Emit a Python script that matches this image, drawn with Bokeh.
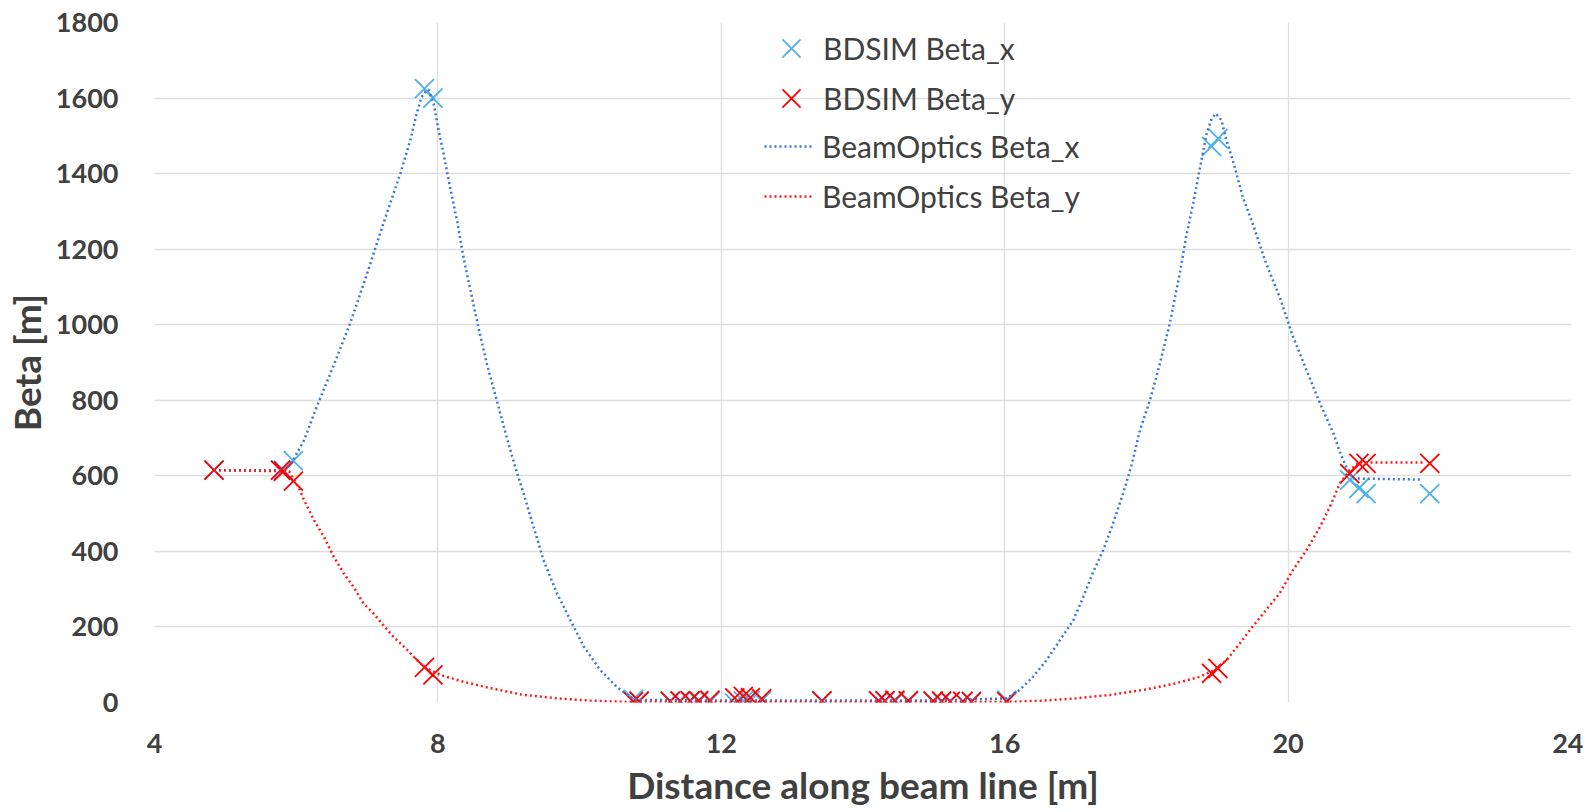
from bokeh.plotting import figure
from bokeh.models import Legend, LegendItem, FixedTicker, Range1d
from bokeh.embed import file_html
from bokeh.resources import INLINE

# BDSIM sampling points (shared s positions)
bdsim_s = [4.84, 5.78, 5.82, 5.96, 7.81, 7.93, 10.76, 10.84, 11.28, 11.42, 11.56, 11.68, 11.84,
           12.19, 12.31, 12.41, 12.57, 13.42, 14.22, 14.31, 14.45, 14.64, 14.99, 15.11,
           15.23, 15.41, 15.53, 16.03, 18.92, 19.01, 20.87, 21.00, 21.10, 22.00]
bdsim_beta_x = [615, 615, 615, 640, 1625, 1600, 8, 5, 4, 3, 3, 2, 2,
                -2, 4, 5, 5, 5, 5, 4, 3, 3, 3, 2,
                3, 3, 3, 6, 1472, 1493, 589, 567, 553, 553]
bdsim_beta_y = [615, 615, 612, 586, 93, 73, 2, 3, 3, 4, 5, 5, 6,
                12, 16, 13, 10, 4, 4, 5, 6, 5, 4, 4,
                3, 3, 2, 2, 77, 90, 606, 633, 633, 633]

# BeamOptics curves
bo_x_s = [4.84, 5.85, 5.97, 6.11, 6.29, 6.53, 6.76, 7.00, 7.23, 7.47, 7.61, 7.70, 7.77, 7.84,
          7.87, 7.94, 8.01, 8.08, 8.17, 8.27, 8.36, 8.46, 8.57, 8.69, 8.83, 8.97, 9.09,
          9.21, 9.35, 9.49, 9.68, 9.87, 10.06, 10.29, 10.52, 10.71, 10.81, 12.0, 13.5,
          15.0, 16.03, 16.21, 16.40, 16.59, 16.78, 16.97, 17.11, 17.25, 17.39, 17.53,
          17.67, 17.79, 17.91, 18.05, 18.19, 18.33, 18.47, 18.56, 18.66, 18.75, 18.85,
          18.92, 18.98, 19.06, 19.13, 19.22, 19.36, 19.50, 19.69, 19.88, 20.07, 20.26,
          20.45, 20.64, 20.72, 20.82, 20.91, 21.90]
bo_x_beta = [615, 615, 646, 694, 783, 893, 1003, 1135, 1268, 1400, 1488, 1559, 1603, 1620,
             1622, 1585, 1515, 1453, 1365, 1276, 1179, 1091, 994, 897, 800, 703, 624,
             553, 465, 377, 289, 218, 148, 86, 42, 15, 7, 5, 5,
             5, 11, 33, 68, 112, 165, 218, 280, 346, 403, 474,
             553, 628, 721, 800, 897, 1003, 1135, 1232, 1321, 1409, 1506,
             1545, 1559, 1541, 1488, 1435, 1338, 1268, 1162, 1074, 968, 880,
             792, 712, 668, 624, 593, 590]

bo_y_s = [4.84, 5.90, 6.04, 6.11, 6.25, 6.39, 6.53, 6.67, 6.81, 6.95, 7.09, 7.23, 7.37, 7.52,
          7.66, 7.80, 8.03, 8.36, 8.74, 9.21, 9.68, 10.15, 10.71, 12.0, 13.5, 15.0, 16.12,
          16.54, 17.01, 17.48, 17.95, 18.42, 18.75, 18.95, 19.13, 19.32, 19.50, 19.69,
          19.88, 20.07, 20.26, 20.45, 20.59, 20.73, 20.87, 21.00, 21.90]
bo_y_beta = [615, 612, 567, 536, 483, 439, 386, 342, 306, 262, 236, 205, 174, 148,
             121, 95, 73, 55, 38, 20, 11, 5, 1, 1, 1, 1, 2,
             5, 11, 20, 33, 51, 68, 85, 112, 157, 201, 245,
             289, 351, 403, 465, 518, 580, 615, 635, 635]

x_ticks = [4, 8, 12, 16, 20, 24]
y_ticks = [0, 200, 400, 600, 800, 1000, 1200, 1400, 1600, 1800]

FONT = "Lato"
TXT = "#404040"
GRID = "#DEDEDE"

p = figure(frame_width=1417, frame_height=680, output_backend="svg", toolbar_location=None,
           x_range=Range1d(4, 24), y_range=Range1d(0, 1800),
           min_border_left=143, min_border_top=22, min_border_right=12, min_border_bottom=4)
p.outline_line_color = None
p.background_fill_color = "white"

for ax in (p.xaxis[0], p.yaxis[0]):
    ax.axis_line_color = None
    ax.major_tick_line_color = None
    ax.minor_tick_line_color = None
    ax.major_label_text_font = FONT
    ax.major_label_text_font_style = "bold"
    ax.major_label_text_font_size = "27px"
    ax.major_label_text_color = TXT
    ax.axis_label_text_font = FONT
    ax.axis_label_text_font_style = "bold"
    ax.axis_label_text_font_size = "37px"
    ax.axis_label_text_color = TXT

p.xaxis.ticker = FixedTicker(ticks=x_ticks)
p.yaxis.ticker = FixedTicker(ticks=y_ticks)
p.xaxis.axis_label = "Distance along beam line [m]"
p.yaxis.axis_label = "Beta [m]"
p.xaxis.major_label_standoff = 25
p.xaxis.axis_label_standoff = 6
p.yaxis.major_label_standoff = 30
p.yaxis.axis_label_standoff = 4

p.xgrid.ticker = FixedTicker(ticks=x_ticks)
p.ygrid.ticker = FixedTicker(ticks=y_ticks)
p.xgrid.grid_line_color = GRID
p.ygrid.grid_line_color = GRID
p.xgrid.grid_line_width = 1.3
p.ygrid.grid_line_width = 1.3

sx = p.scatter(bdsim_s, bdsim_beta_x, marker="x", size=27, line_width=1.8, line_color="#4DB3E6")
sy = p.scatter(bdsim_s, bdsim_beta_y, marker="x", size=27, line_width=1.8, line_color="#FF0000")
lx = p.line(bo_x_s, bo_x_beta, line_color="#3577DE", line_width=2.5, line_dash="2 3")
ly = p.line(bo_y_s, bo_y_beta, line_color="#FF1A1A", line_width=2.5, line_dash="2 3")


def one_legend(label, rend, loc, gw, gh, standoff):
    lg = Legend(items=[LegendItem(label=label, renderers=[rend])],
                location=loc, padding=0, margin=0, border_line_color=None,
                background_fill_alpha=0, glyph_width=gw, glyph_height=gh,
                label_height=gh, spacing=0, label_standoff=standoff,
                label_text_font=FONT, label_text_font_size="30px",
                label_text_color=TXT)
    p.add_layout(lg)


one_legend("BDSIM Beta_x", sx, (605, 622), 64, 64, 0)
one_legend("BDSIM Beta_y", sy, (605, 572), 64, 64, 0)
one_legend("BeamOptics Beta_x", lx, (610, 538), 48, 32, 10)
one_legend("BeamOptics Beta_y", ly, (610, 488), 48, 32, 10)

open("out.html", "w").write(file_html(p, INLINE))
